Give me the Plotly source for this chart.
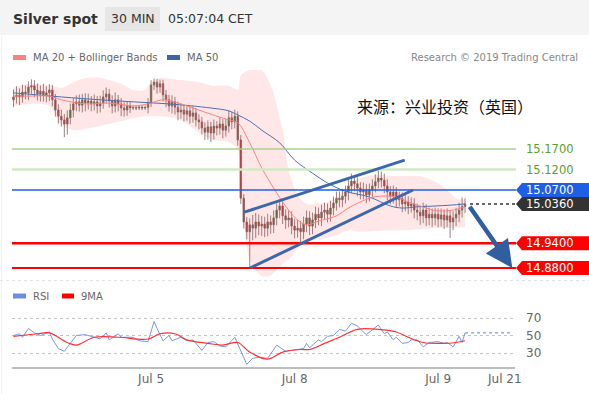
import plotly.graph_objects as go

# ---------------- data ----------------
closes = [
15.297,15.302,15.297,15.309,15.307,15.321,15.324,15.314,15.304,15.311,
15.302,15.307,15.314,15.290,15.265,15.250,15.241,15.231,15.246,15.265,
15.280,15.285,15.277,15.290,15.282,15.287,15.280,15.285,15.275,15.282,
15.297,15.304,15.287,15.275,15.290,15.280,15.270,15.265,15.275,15.270,
15.271,15.270,15.272,15.270,15.271,15.282,15.326,15.333,15.321,15.329,
15.302,15.290,15.275,15.285,15.272,15.260,15.265,15.255,15.263,15.250,
15.258,15.241,15.236,15.221,15.211,15.224,15.209,15.226,15.221,15.231,
15.216,15.226,15.246,15.236,15.250,15.192,15.050,14.992,14.968,14.985,
14.977,14.992,14.982,14.987,14.977,14.992,14.985,15.002,15.021,15.031,
15.007,14.997,15.002,14.982,14.972,14.977,14.968,14.987,15.002,14.982,
14.997,15.011,15.002,15.016,15.021,15.011,15.026,15.038,15.050,15.046,
15.055,15.065,15.080,15.092,15.085,15.075,15.065,15.070,15.058,15.070,
15.080,15.090,15.099,15.094,15.080,15.065,15.055,15.065,15.046,15.050,
15.036,15.041,15.031,15.036,15.021,15.016,15.007,15.021,15.002,15.011,
15.002,15.011,14.999,15.009,14.997,15.007,14.992,15.002,15.011,15.021,
15.030,15.036]

opens = [
15.290,15.297,15.302,15.297,15.309,15.307,15.321,15.324,15.314,15.304,
15.311,15.302,15.307,15.314,15.290,15.265,15.250,15.241,15.231,15.246,
15.265,15.280,15.285,15.277,15.290,15.282,15.287,15.280,15.285,15.275,
15.282,15.297,15.304,15.287,15.275,15.290,15.280,15.270,15.265,15.275,
15.270,15.271,15.270,15.272,15.270,15.271,15.282,15.326,15.333,15.321,
15.329,15.302,15.290,15.275,15.285,15.272,15.260,15.265,15.255,15.263,
15.250,15.258,15.241,15.236,15.221,15.211,15.224,15.209,15.226,15.221,
15.231,15.216,15.226,15.246,15.236,15.250,15.192,15.050,14.992,14.968,
14.985,14.977,14.992,14.982,14.987,14.977,14.992,14.985,15.002,15.021,
15.031,15.007,14.997,15.002,14.982,14.972,14.977,14.968,14.987,15.002,
14.982,14.997,15.011,15.002,15.016,15.021,15.011,15.026,15.038,15.050,
15.046,15.055,15.065,15.080,15.092,15.085,15.075,15.065,15.070,15.058,
15.070,15.080,15.090,15.099,15.094,15.080,15.065,15.055,15.065,15.046,
15.050,15.036,15.041,15.031,15.036,15.021,15.016,15.007,15.021,15.002,
15.011,15.002,15.011,14.999,15.009,14.997,15.007,14.992,15.002,15.011,
15.021,15.030]

highs = [
15.315,15.323,15.318,15.327,15.325,15.335,15.340,15.338,15.330,15.325,
15.329,15.323,15.328,15.326,15.304,15.279,15.266,15.255,15.264,15.281,
15.294,15.301,15.303,15.304,15.306,15.305,15.299,15.303,15.299,15.300,
15.313,15.320,15.316,15.301,15.308,15.302,15.294,15.284,15.287,15.285,
15.276,15.276,15.277,15.277,15.276,15.294,15.338,15.342,15.341,15.339,
15.339,15.314,15.302,15.301,15.297,15.286,15.281,15.277,15.277,15.275,
15.274,15.270,15.255,15.248,15.235,15.240,15.236,15.242,15.238,15.247,
15.243,15.242,15.264,15.260,15.266,15.262,15.204,15.060,15.004,15.001,
15.009,15.014,15.010,15.007,15.005,15.012,15.008,15.020,15.037,15.047,
15.043,15.023,15.020,15.018,15.000,14.997,14.995,15.005,15.020,15.018,
15.015,15.029,15.027,15.034,15.039,15.037,15.044,15.054,15.066,15.066,
15.073,15.081,15.096,15.110,15.106,15.101,15.089,15.088,15.084,15.086,
15.096,15.108,15.121,15.115,15.110,15.096,15.079,15.081,15.077,15.066,
15.064,15.059,15.055,15.052,15.050,15.037,15.032,15.039,15.035,15.027,
15.025,15.027,15.025,15.025,15.023,15.025,15.021,15.018,15.027,15.039,
15.052,15.050]

lows = [
15.272,15.281,15.277,15.283,15.291,15.289,15.305,15.296,15.288,15.286,
15.286,15.284,15.287,15.274,15.249,15.232,15.225,15.199,15.205,15.230,
15.247,15.262,15.261,15.259,15.262,15.266,15.262,15.264,15.257,15.259,
15.268,15.281,15.271,15.257,15.259,15.262,15.250,15.249,15.251,15.258,
15.265,15.265,15.265,15.265,15.265,15.257,15.272,15.314,15.305,15.307,
15.286,15.272,15.261,15.257,15.254,15.240,15.244,15.237,15.239,15.232,
15.234,15.225,15.218,15.205,15.192,15.193,15.187,15.193,15.203,15.205,
15.196,15.200,15.210,15.218,15.220,15.178,15.036,14.976,14.950,14.880,
14.947,14.953,14.960,14.958,14.955,14.957,14.963,14.965,14.984,15.001,
14.987,14.975,14.979,14.962,14.952,14.954,14.941,14.950,14.967,14.960,
14.962,14.977,14.984,14.982,14.998,14.991,14.993,15.008,15.020,15.028,
15.028,15.037,15.045,15.062,15.067,15.055,15.047,15.047,15.038,15.042,
15.052,15.064,15.074,15.076,15.062,15.045,15.035,15.037,15.026,15.030,
15.016,15.018,15.011,15.015,15.001,14.996,14.985,14.989,14.982,14.984,
14.980,14.984,14.979,14.981,14.975,14.979,14.953,14.972,14.982,14.991,
15.003,15.014]

candle_idx = list(range(len(closes)))

bb_idx = [0,5,12,16,20,24,29,36,40,44,46,49,56,62,67,72,75,76,79,83,86,90,92,95,98,103,108,112,116,121,126,131,136,141,145,148,151]
bb_upper = [15.319,15.329,15.326,15.319,15.333,15.343,15.343,15.329,15.314,15.314,
            15.333,15.343,15.338,15.333,15.324,15.324,15.314,15.350,15.362,15.362,
            15.326,15.216,15.119,15.058,15.036,15.038,15.050,15.082,15.099,15.107,
            15.104,15.104,15.104,15.090,15.070,15.050,15.046]
bb_lower = [15.275,15.280,15.275,15.229,15.216,15.219,15.226,15.238,15.245,15.250,
            15.250,15.250,15.241,15.211,15.192,15.187,15.168,15.082,14.900,14.860,
            14.862,14.890,14.900,14.928,14.945,14.950,14.960,14.972,14.968,14.970,
            14.972,14.972,14.975,14.977,14.977,14.978,14.980]

ma20_idx = [0,5,12,16,24,32,40,45,50,56,62,68,72,75,79,83,88,92,95,98,102,108,112,119,123,128,132,138,142,147,151]
ma20 = [15.299,15.299,15.299,15.290,15.280,15.282,15.275,15.280,15.290,15.280,
        15.265,15.250,15.241,15.234,15.185,15.124,15.063,15.021,14.997,14.985,
        14.994,15.007,15.026,15.050,15.055,15.053,15.041,15.026,15.019,15.021,15.029]

ma50_idx = [0,16,29,40,52,66,72,75,79,83,89,94,100,105,111,119,126,130,135,141,146,151]
ma50 = [15.307,15.297,15.290,15.285,15.280,15.270,15.263,15.253,15.238,15.216,
        15.185,15.143,15.111,15.087,15.067,15.053,15.031,15.026,15.029,15.031,15.033,15.036]

rsi_idx = [0,2,3,5,7,9,12,13,15,17,19,21,24,27,29,31,32,35,36,40,42,45,47,48,50,52,53,56,58,60,
           63,65,67,69,71,74,76,78,80,82,85,88,91,96,97,98,99,102,103,105,107,109,111,113,115,117,118,122,124,125,
           127,128,130,132,133,135,137,139,142,144,145,147,149,150,151]
rsi_val = [50,52,48,58,53,50,54,46,35,32,41,50,51,48,46,53,45,52,48,48,44,43,66,58,44,50,44,48,44,45,
           33,42,43,38,37,48,33,17,24,25,24,39,32,34,35,41,36,45,43,49,50,57,55,64,61,54,51,62,52,54,
           45,48,41,42,45,45,37,42,43,41,42,37,49,42,53]
rsi_last = 53

ma9_idx = [0,8,12,18,21,27,35,45,49,54,58,65,70,75,79,85,90,96,99,104,109,115,122,128,132,137,143,148,151]
ma9_val = [49,52,53,42,39,48,48,46,52,52,45,41,39,42,31,23,31,34,34,41,48,57,57,54,48,42,41,42,44]

tick_idx = [46, 94, 142, 164.3]
tick_text = ["Jul 5", "Jul 8", "Jul 9", "Jul 21"]
x_end = 167.7

level_prices = [15.17, 15.12, 15.07, 15.036, 14.94, 14.88]
level_text = ["15.1700", "15.1200", "15.0700", "15.0360", "14.9400", "14.8800"]

chan_upper_x = [77.2, 130.8]
chan_upper_y = [15.016, 15.143]
chan_lower_x = [79.2, 133.6]
chan_lower_y = [14.880, 15.070]
arrow_x = [152.2, 166.8]
arrow_y = [15.033, 14.880]

rsi_levels = [30, 50, 70]

# ---------------- layout helpers ----------------
W, H = 589, 394
L, R, T, B = 12, 515, 66, 367
def px(x): return (x - L) / (R - L)
def py(y): return (B - y) / (B - T)
PPU = 410.0  # pixels per price unit on main panel
FONT = "DejaVu Sans"

fig = go.Figure()

# Bollinger band fill
fig.add_trace(go.Scatter(x=bb_idx, y=bb_upper, mode="lines", line=dict(width=0, shape="spline", smoothing=0.8),
                         hoverinfo="skip", showlegend=False))
fig.add_trace(go.Scatter(x=bb_idx, y=bb_lower, mode="lines", line=dict(width=0, shape="spline", smoothing=0.8),
                         fill="tonexty", fillcolor="rgba(255,60,60,0.12)", hoverinfo="skip", showlegend=False))

# candles
fig.add_trace(go.Candlestick(
    x=candle_idx, open=opens, high=highs, low=lows, close=closes,
    increasing=dict(line=dict(color="#7a6666", width=0.8), fillcolor="#2e7d2e"),
    decreasing=dict(line=dict(color="#7a6666", width=0.8), fillcolor="#d9262e"),
    whiskerwidth=0, hoverinfo="skip", showlegend=False))

# moving averages
fig.add_trace(go.Scatter(x=ma50_idx, y=ma50, mode="lines", line=dict(color="#4a70b0", width=1, shape="spline"),
                         hoverinfo="skip", showlegend=False))
fig.add_trace(go.Scatter(x=ma20_idx, y=ma20, mode="lines", line=dict(color="#ff8080", width=1, shape="spline"),
                         hoverinfo="skip", showlegend=False))

# RSI panel
fig.add_trace(go.Scatter(x=rsi_idx, y=rsi_val, mode="lines", line=dict(color="#7b98e6", width=1),
                         xaxis="x", yaxis="y2", hoverinfo="skip", showlegend=False))
fig.add_trace(go.Scatter(x=ma9_idx, y=ma9_val, mode="lines", line=dict(color="#ff3030", width=1.2, shape="spline"),
                         xaxis="x", yaxis="y2", hoverinfo="skip", showlegend=False))

shapes = []
annotations = []

# header band
shapes.append(dict(type="rect", xref="paper", yref="paper", x0=px(0), x1=px(W), y0=py(35), y1=py(0),
                   fillcolor="#f4f4f4", line=dict(width=0), layer="below"))
shapes.append(dict(type="rect", xref="paper", yref="paper", x0=px(105), x1=px(160), y0=py(31), y1=py(7),
                   fillcolor="#e6e6e6", line=dict(width=0), layer="below"))
# panel separator & left border
shapes.append(dict(type="line", xref="paper", yref="paper", x0=px(0), x1=px(W), y0=py(280.5), y1=py(280.5),
                   line=dict(color="#e2e2e2", width=1, dash="dot")))
shapes.append(dict(type="line", xref="paper", yref="paper", x0=px(1.5), x1=px(1.5), y0=py(36), y1=py(H),
                   line=dict(color="#f0f0f0", width=1)))

# level lines
lvl_line_color = ["#a9d18e", "#d2e8c3", "#1f5fe6", "#333333", "#ff0000", "#ff0000"]
lvl_line_width = [1.3, 2.6, 1.3, 1.5, 2.6, 2]
for p, c, w in zip(level_prices, lvl_line_color, lvl_line_width):
    if abs(p - 15.036) < 1e-9:
        shapes.append(dict(type="line", xref="paper", yref="y", x0=px(470), x1=px(516), y0=p, y1=p,
                           line=dict(color=c, width=w, dash="dot")))
    else:
        shapes.append(dict(type="line", xref="paper", yref="y", x0=0, x1=px(516), y0=p, y1=p,
                           line=dict(color=c, width=w)))

# price tags
tag_fill = [None, None, "#1f5fe6", "#333333", "#ff0000", "#ff0000"]
tag_text_color = ["#5aa02c", "#5aa02c", "#ffffff", "#ffffff", "#ffffff", "#ffffff"]
hh = 7.0 / PPU
for p, t, f, tc in zip(level_prices, level_text, tag_fill, tag_text_color):
    if f:
        path = (f"M {px(516)},{p} L {px(522)},{p+hh} L {px(W)},{p+hh} "
                f"L {px(W)},{p-hh} L {px(522)},{p-hh} Z")
        shapes.append(dict(type="path", xref="paper", yref="y", path=path, fillcolor=f, line=dict(width=0)))
    annotations.append(dict(xref="paper", yref="y", x=px(524), y=p, text=t, showarrow=False,
                            xanchor="left", yanchor="middle", font=dict(family=FONT, size=11.5, color=tc)))

# channel lines
shapes.append(dict(type="line", xref="x", yref="y", x0=chan_upper_x[0], x1=chan_upper_x[1],
                   y0=chan_upper_y[0], y1=chan_upper_y[1], line=dict(color="#3b67ad", width=3)))
shapes.append(dict(type="line", xref="x", yref="y", x0=chan_lower_x[0], x1=chan_lower_x[1],
                   y0=chan_lower_y[0], y1=chan_lower_y[1], line=dict(color="#3b67ad", width=3)))

# RSI dotted extension
shapes.append(dict(type="line", xref="x", yref="y2", x0=rsi_idx[-1], x1=x_end - 1, y0=rsi_last, y1=rsi_last,
                   line=dict(color="#7b98e6", width=1.3, dash="dot")))

# arrow
annotations.append(dict(xref="x", yref="y", axref="x", ayref="y", x=arrow_x[1], y=arrow_y[1],
                        ax=arrow_x[0], ay=arrow_y[0], text="", showarrow=True, arrowhead=2,
                        arrowsize=1.2, arrowwidth=4.5, arrowcolor="#2f5f9f"))

# header texts
annotations += [
    dict(xref="paper", yref="paper", x=px(11), y=py(19), text="<b>Silver spot</b>", showarrow=False,
         xanchor="left", yanchor="middle", font=dict(family=FONT, size=14, color="#333333")),
    dict(xref="paper", yref="paper", x=px(132.5), y=py(19), text="30 MIN", showarrow=False,
         xanchor="center", yanchor="middle", font=dict(family=FONT, size=12.5, color="#333333")),
    dict(xref="paper", yref="paper", x=px(166), y=py(19), text="05:07:04 CET", showarrow=False,
         xanchor="left", yanchor="middle", font=dict(family=FONT, size=12.5, color="#333333")),
    dict(xref="paper", yref="paper", x=px(31), y=py(57.5), text="MA 20 + Bollinger Bands", showarrow=False,
         xanchor="left", yanchor="middle", font=dict(family=FONT, size=10, color="#666666")),
    dict(xref="paper", yref="paper", x=px(185), y=py(57.5), text="MA 50", showarrow=False,
         xanchor="left", yanchor="middle", font=dict(family=FONT, size=10, color="#666666")),
    dict(xref="paper", yref="paper", x=px(580), y=py(57.5), text="Research © 2019 Trading Central", showarrow=False,
         xanchor="right", yanchor="middle", font=dict(family=FONT, size=10, color="#888888")),
    dict(xref="paper", yref="paper", x=px(445), y=py(106), text="来源：兴业投资（英国）", showarrow=False,
         xanchor="center", yanchor="middle", font=dict(family="Noto Sans CJK SC", size=16, color="#111111")),
    dict(xref="paper", yref="paper", x=px(31), y=py(296), text="RSI", showarrow=False,
         xanchor="left", yanchor="middle", font=dict(family=FONT, size=10, color="#666666")),
    dict(xref="paper", yref="paper", x=px(79), y=py(296), text="9MA", showarrow=False,
         xanchor="left", yanchor="middle", font=dict(family=FONT, size=10, color="#666666")),
]
# legend swatches
for (x0, x1, yc, col) in [(13, 26, 57.5, "#ff8080"), (167, 180, 57.5, "#3d66a8"),
                          (13, 26, 296, "#6b8de6"), (62, 74, 296, "#ff0000")]:
    shapes.append(dict(type="rect", xref="paper", yref="paper", x0=px(x0), x1=px(x1),
                       y0=py(yc + 2.5), y1=py(yc - 2.5), fillcolor=col, line=dict(width=0)))

fig.update_layout(
    width=W, height=H, margin=dict(l=L, r=W - R, t=T, b=H - B, autoexpand=False),
    paper_bgcolor="white", plot_bgcolor="rgba(0,0,0,0)", showlegend=False,
    font=dict(family=FONT, color="#666666"),
    xaxis=dict(range=[-0.5, x_end], anchor="y2", showline=True, linecolor="#bdbdbd", linewidth=2,
               tickvals=tick_idx, ticktext=tick_text, ticks="", showgrid=False, zeroline=False,
               automargin=False, tickfont=dict(size=12, color="#666666"), rangeslider=dict(visible=False)),
    yaxis=dict(domain=[py(282), py(70)], range=[15.17 - (282 - 149) / PPU, 15.17 + (149 - 70) / PPU],
               showgrid=False, showticklabels=False, zeroline=False, showline=False, automargin=False),
    yaxis2=dict(domain=[0, py(310)], range=[14, 79.14], side="right", tickvals=rsi_levels,
                showgrid=True, gridcolor="#c4c4c4", griddash="dot", gridwidth=1, zeroline=False,
                automargin=False, ticks="", ticklabelstandoff=10,
                tickfont=dict(size=12, color="#666666"), showline=False),
    shapes=shapes, annotations=annotations,
)

fig.write_html("out.html", config={"responsive": False, "displayModeBar": False},
               post_script="document.body.style.margin='0';document.body.style.overflow='hidden';")
